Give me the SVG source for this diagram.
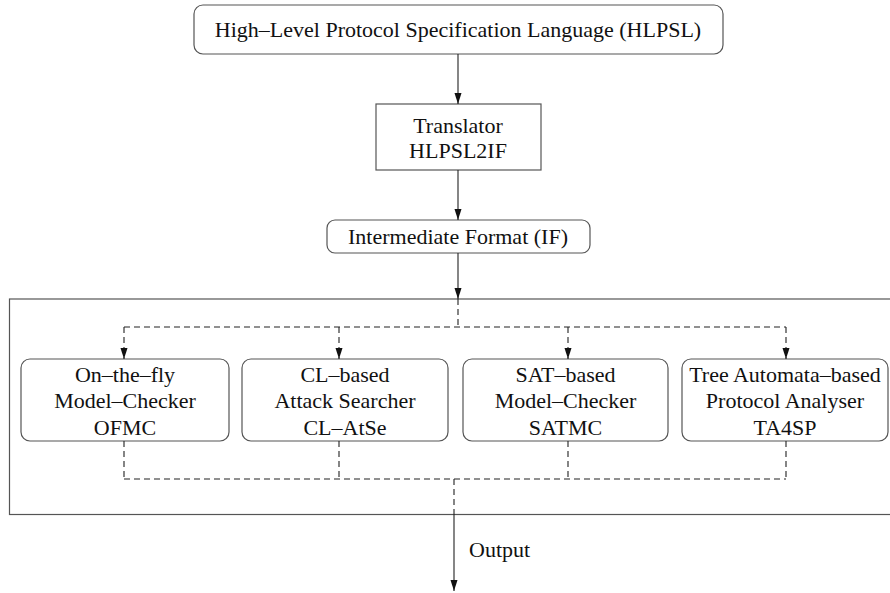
<svg xmlns="http://www.w3.org/2000/svg" width="890" height="593" viewBox="0 0 890 593">
<defs>
<style>
.box{fill:#fff;stroke:#555;stroke-width:1.2}
.t{font-family:'Liberation Serif','Times New Roman',Times,serif;font-size:22px;fill:#111;text-anchor:middle}
.ln{fill:none;stroke:#222;stroke-width:1.1}
.dl{fill:none;stroke:#222;stroke-width:1.1;stroke-dasharray:6 4}
</style>
<marker id="ad" markerWidth="10" markerHeight="12" refX="5" refY="11" markerUnits="userSpaceOnUse" viewBox="0 0 10 12" orient="0">
<path d="M1.5,0 L5,11 L8.5,0 Z" fill="#111"/>
</marker>
</defs>
<rect id="outer" x="9.5" y="299" width="884" height="215.5" fill="none" stroke="#555" stroke-width="1.2"/>
<g id="hlpsl">
<rect class="box" x="194" y="5" width="529" height="49" rx="9"/>
<text class="t" x="458" y="37">High–Level Protocol Specification Language (HLPSL)</text>
</g>
<g id="translator">
<rect class="box" x="376" y="104" width="165" height="66"/>
<text class="t" x="458" y="133">Translator</text>
<text class="t" x="458" y="158">HLPSL2IF</text>
</g>
<g id="if">
<rect class="box" x="327" y="220" width="263" height="33" rx="8"/>
<text class="t" x="458" y="244">Intermediate Format (IF)</text>
</g>
<g id="ofmc">
<rect class="box" x="21" y="359" width="208" height="82" rx="9"/>
<text class="t" x="125" y="382">On–the–fly</text>
<text class="t" x="125" y="408">Model–Checker</text>
<text class="t" x="125" y="435">OFMC</text>
</g>
<g id="clatse">
<rect class="box" x="242" y="359" width="206" height="82" rx="9"/>
<text class="t" x="345" y="382">CL–based</text>
<text class="t" x="345" y="408">Attack Searcher</text>
<text class="t" x="345" y="435">CL–AtSe</text>
</g>
<g id="satmc">
<rect class="box" x="463" y="359" width="205" height="82" rx="9"/>
<text class="t" x="565.5" y="382">SAT–based</text>
<text class="t" x="565.5" y="408">Model–Checker</text>
<text class="t" x="565.5" y="435">SATMC</text>
</g>
<g id="ta4sp">
<rect class="box" x="682" y="359" width="206" height="82" rx="9"/>
<text class="t" x="785" y="382">Tree Automata–based</text>
<text class="t" x="785" y="408">Protocol Analyser</text>
<text class="t" x="785" y="435">TA4SP</text>
</g>
<g id="connectors">
<line class="ln" x1="458" y1="54" x2="458" y2="104" marker-end="url(#ad)"/>
<line class="ln" x1="458" y1="170" x2="458" y2="220" marker-end="url(#ad)"/>
<line class="ln" x1="458" y1="253" x2="458" y2="299" marker-end="url(#ad)"/>
<line class="dl" x1="458" y1="299" x2="458" y2="327"/>
<line class="dl" x1="124" y1="327" x2="786" y2="327"/>
<line class="dl" x1="124" y1="327" x2="124" y2="359" marker-end="url(#ad)"/>
<line class="dl" x1="339" y1="327" x2="339" y2="359" marker-end="url(#ad)"/>
<line class="dl" x1="568" y1="327" x2="568" y2="359" marker-end="url(#ad)"/>
<line class="dl" x1="786" y1="327" x2="786" y2="359" marker-end="url(#ad)"/>
<line class="dl" x1="124" y1="441" x2="124" y2="479"/>
<line class="dl" x1="339" y1="441" x2="339" y2="479"/>
<line class="dl" x1="568" y1="441" x2="568" y2="479"/>
<line class="dl" x1="786" y1="441" x2="786" y2="479"/>
<line class="dl" x1="124" y1="479" x2="786" y2="479"/>
<line class="dl" x1="454" y1="479" x2="454" y2="515"/>
<line class="ln" x1="454" y1="515" x2="454" y2="591" marker-end="url(#ad)"/>
<text class="t" x="469" y="557" style="text-anchor:start">Output</text>
</g>
</svg>
